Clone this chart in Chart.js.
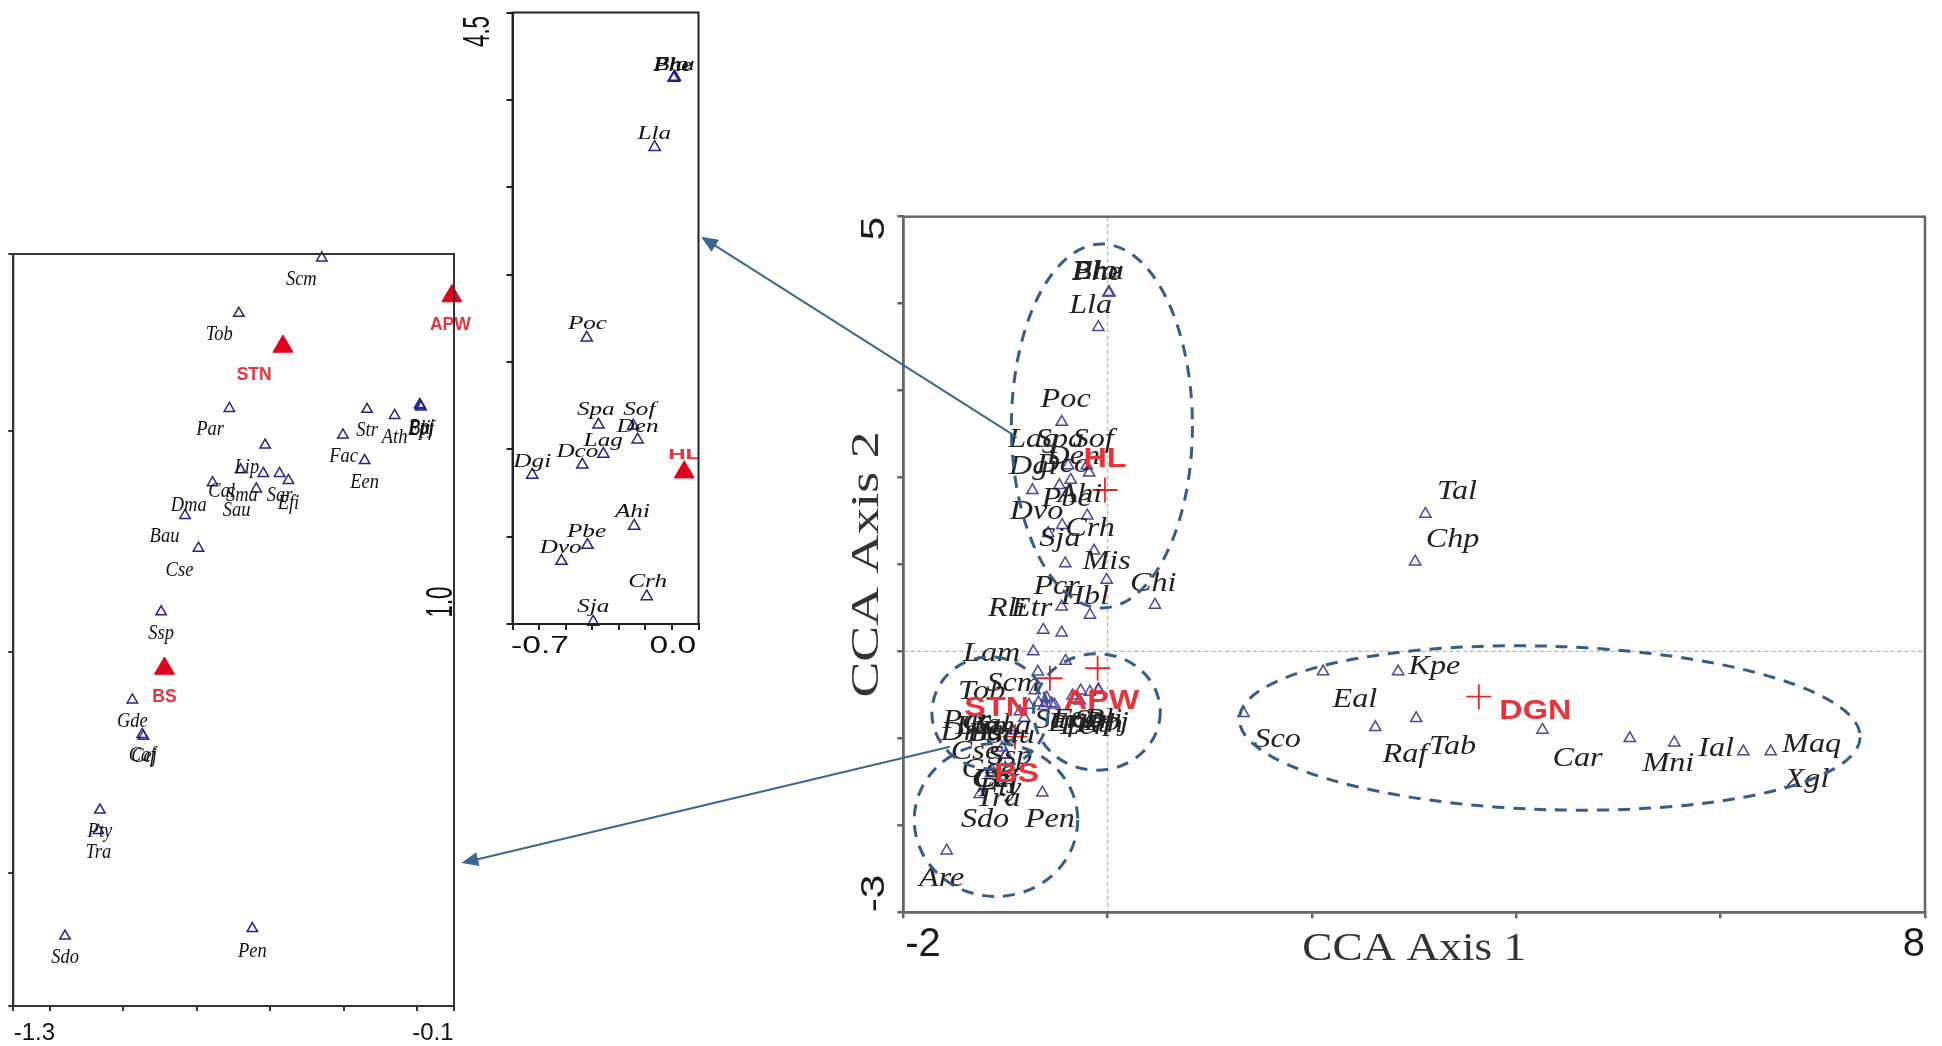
<!DOCTYPE html>
<html>
<head>
<meta charset="utf-8">
<title>CCA ordination</title>
<script src="https://cdn.jsdelivr.net/npm/chart.js@4.4.1/dist/chart.umd.min.js"></script>
<style>
html,body{margin:0;padding:0;background:#fff;}
#wrap{position:relative;width:1942px;height:1046px;overflow:hidden;background:#fff;}
#wrap canvas{position:absolute;}
</style>
</head>
<body>
<div id="wrap">
  <canvas id="cMain" width="1099" height="850" style="left:843px;top:196px"></canvas>
  <canvas id="cLeft" width="475" height="812" style="left:0px;top:234px"></canvas>
  <canvas id="cMid" width="300" height="670" style="left:420px;top:0px"></canvas>
  <canvas id="cArrows" width="1942" height="1046" style="left:0px;top:0px;pointer-events:none"></canvas>
</div>
<script>
// ---------------- DATA ----------------
// HL group species (CCA axis 1 / axis 2 scores)
const hlSpecies = ['Elo','Bhu','Phe','Lla','Poc','Spa','Sof','Den','Lag','Dco','Dgi','Ahi','Pbe','Dvo','Crh','Sja'];
const hlX = [0.012,0.015,0.009,-0.091,-0.449,-0.387,-0.204,-0.181,-0.361,-0.472,-0.736,-0.199,-0.445,-0.582,-0.133,-0.415];
const hlY = [4.128,4.131,4.125,3.729,2.638,2.140,2.135,2.055,1.973,1.911,1.853,1.561,1.452,1.360,1.158,1.012];
const hlLabelX = [-0.004,0.012,0.004,-0.093,-0.445,-0.401,-0.172,-0.181,-0.362,-0.498,-0.736,-0.208,-0.450,-0.586,-0.128,-0.415];
const hlLabelY = [4.197,4.200,4.194,3.803,2.715,2.221,2.221,2.128,2.048,1.985,1.927,1.642,1.526,1.434,1.237,1.093];

// STN / APW / BS group species
const swSpecies = ['Scm','Tob','Par','Str','Ath','Bli','Ppj','Epf','Fac','Een','Lip','Cal','Sma','Sar','Efi','Dma','Sau','Bau','Cse','Ssp','Gde','Caf','Cej','Pty','Tra','Sdo','Pen'];
const swX = [-0.412,-0.683,-0.714,-0.264,-0.174,-0.092,-0.088,-0.090,-0.343,-0.272,-0.597,-0.677,-0.603,-0.550,-0.521,-0.769,-0.626,-0.859,-0.815,-0.937,-1.031,-0.999,-0.995,-1.137,-1.142,-1.251,-0.639];
const swY = [-0.109,-0.234,-0.449,-0.451,-0.465,-0.440,-0.446,-0.443,-0.509,-0.567,-0.532,-0.588,-0.596,-0.596,-0.612,-0.617,-0.631,-0.691,-0.765,-0.909,-1.108,-1.186,-1.190,-1.357,-1.403,-1.642,-1.625];
const swLabelX = [-0.479,-0.747,-0.777,-0.264,-0.174,-0.092,-0.086,-0.089,-0.341,-0.272,-0.657,-0.739,-0.673,-0.550,-0.521,-0.847,-0.690,-0.926,-0.877,-0.937,-1.031,-0.999,-0.993,-1.137,-1.142,-1.251,-0.639];
const swLabelY = [-0.157,-0.281,-0.496,-0.499,-0.514,-0.493,-0.491,-0.495,-0.558,-0.617,-0.582,-0.637,-0.645,-0.645,-0.664,-0.667,-0.679,-0.738,-0.814,-0.958,-1.156,-1.233,-1.235,-1.405,-1.452,-1.689,-1.676];

// species only visible in the main plot
const otherSpecies = ['Mis','Chi','Hbl','Pcr','Rli','Etr','Lam','Are','Tal','Chp','Sco','Eal','Kpe','Raf','Tab','Car','Mni','Ial','Xgl','Maq'];
const otherX = [-0.010,0.463,-0.173,-0.450,-0.630,-0.450,-0.728,-1.575,3.110,3.010,1.330,2.109,2.843,2.620,3.020,4.256,5.111,5.546,6.222,6.490];
const otherY = [0.822,0.535,0.420,0.515,0.247,0.216,-0.002,-2.291,1.581,1.033,-0.711,-0.232,-0.232,-0.872,-0.769,-0.903,-0.999,-1.049,-1.152,-1.152];

// species labels as placed in the main plot
const mainLabelText = ['Elo','Bhu','Phe','Lla','Poc','Lag','Spa','Sof','Den','Dgi','Dco','Ahi','Pbe','Dvo','Crh','Sja','Mis','Chi','Pcr','Hbl','Rli','Etr','Lam',
 'Scm','Tob','Par','Lip','Cal','Dma','Bau','Sma','Sau','Sar','Efi','Fac','Een','Str','Ath','Bli','Ppj','Cse','Ssp','Gde','Caf','Cej','Pty','Tra','Sdo','Pen','Are',
 'Tal','Chp','Sco','Eal','Kpe','Raf','Tab','Car','Mni','Ial','Maq','Xgl'];
const mainLabelX = [-0.12,-0.095,-0.105,-0.166,-0.411,-0.728,-0.467,-0.141,-0.337,-0.728,-0.434,-0.271,-0.401,-0.695,-0.173,-0.467,-0.01,0.446,-0.499,-0.222,-0.988,-0.744,-1.135,
 -0.924,-1.233,-1.38,-1.28,-1.18,-1.33,-1.12,-1.02,-0.95,-0.50,-0.40,-0.30,-0.22,-0.14,-0.07,-0.04,-0.01,-1.298,-0.956,-1.168,-1.103,-1.09,-1.054,-1.07,-1.2,-0.565,-1.624,
 3.42,3.376,1.663,2.42,3.198,2.91,3.376,4.599,5.488,5.956,6.89,6.845];
const mainLabelY = [4.368,4.372,4.362,3.974,2.90,2.432,2.432,2.432,2.24,2.125,2.145,1.80,1.762,1.608,1.417,1.302,1.033,0.784,0.745,0.63,0.497,0.497,-0.021,
 -0.366,-0.462,-0.80,-0.86,-0.84,-0.93,-0.94,-0.86,-0.97,-0.80,-0.83,-0.78,-0.86,-0.80,-0.84,-0.78,-0.82,-1.152,-1.21,-1.363,-1.478,-1.48,-1.573,-1.688,-1.938,-1.938,-2.608,
 1.838,1.29,-1.018,-0.558,-0.175,-1.19,-1.095,-1.229,-1.286,-1.114,-1.075,-1.478];

// sites (main plot, "+")
const siteNames = ['HL','APW','STN','BS','DGN'];
const siteX = [-0.026,-0.098,-0.565,-0.907,3.633];
const siteY = [1.857,-0.193,-0.308,-0.980,-0.520];
const siteLabelX = [-0.026,-0.059,-1.086,-0.890,4.186];
const siteLabelY = [2.202,-0.577,-0.654,-1.420,-0.692];

// sites in the insets (filled triangles)
const insetSiteNames = ['HL','STN','APW','BS'];
const insetSiteX = [0.065,-0.539,0.013,-0.926];
const insetSiteY = [1.869,-0.309,-0.195,-1.037];
const insetSiteLabelX = [0.065,-0.633,0.008,-0.926];
const insetSiteLabelY = [1.969,-0.373,-0.260,-1.101];

// group ellipses (centre x, centre y, radius x, radius y, tilt) in main-plot units
const ellipseCX = [-0.056,-1.152,-0.105,-1.093,4.327];
const ellipseCY = [2.593,-0.707,-0.696,-1.938,-0.880];
const ellipseRX = [0.886,0.568,0.620,0.800,3.040];
const ellipseRY = [2.093,0.644,0.670,0.880,0.940];
const ellipseTilt = [0,0,0,0,0.03];

// axes
const mainXTicks = [-2,0,2,4,6,8];
const mainYTicks = [-3,-2,-1,0,1,2,3,4,5];
const mainXLabelVals = [-2,8];
const mainYLabelVals = [5,-3];
const leftXTicks = [-1.42,-1.3,-1.06,-0.82,-0.58,-0.34,-0.1,0.02];
const leftYTicks = [-0.1,-0.5,-1.0,-1.5,-1.8];
const leftXLabelVals = [-1.3,-0.1];
const midXTicks = [-0.84,-0.7,-0.56,-0.42,-0.28,-0.14,0.0,0.14];
const midYTicks = [1.0,1.5,2.0,2.5,3.0,3.5,4.0,4.5];
const midXLabelVals = [-0.7,0.0];
const midYLabelVals = [4.5,1.0];

// connector arrows: start in main-plot units, end in inset units
const arrowFromX = [-0.890,-1.544];
const arrowFromY = [2.464,-1.095];
const arrowToX = [0.153,0.044];
const arrowToY = [3.217,-1.477];

// ---------------- HELPERS ----------------
const SERIF = '"Liberation Serif", "DejaVu Serif", serif';
const SANS = '"Liberation Sans", Arial, sans-serif';
const RED_TXT = '#e8333b';
const RED_MARK = '#e3001b';

const pts = (xs, ys) => xs.map((x, i) => ({x: x, y: ys[i]}));

function T(ctx, s, x, y, o) {
  ctx.save();
  ctx.translate(x, y);
  if (o.rot) ctx.rotate(o.rot);
  ctx.scale(o.sx || 1, 1);
  ctx.font = o.font;
  ctx.fillStyle = o.color || '#111';
  ctx.textAlign = o.align || 'center';
  ctx.textBaseline = o.base || 'middle';
  ctx.fillText(s, 0, 0);
  ctx.restore();
}
function drawLabels(chart, texts, xs, ys, o) {
  const sx = chart.scales.x, sy = chart.scales.y;
  texts.forEach((t, i) => T(chart.ctx, t, sx.getPixelForValue(xs[i]), sy.getPixelForValue(ys[i]), o));
}
function frame(chart, color, w) {
  const ctx = chart.ctx, a = chart.chartArea;
  ctx.save(); ctx.strokeStyle = color; ctx.lineWidth = w; ctx.setLineDash([]);
  ctx.strokeRect(a.left, a.top, a.right - a.left, a.bottom - a.top);
  ctx.restore();
}
function mkScale(min, max, ticks, sizeProp, size, tickLen, color, bw) {
  return {
    type: 'linear', min: min, max: max,
    afterBuildTicks: s => { s.ticks = ticks.map(v => ({value: v})); },
    afterFit: s => { s[sizeProp] = size; },
    ticks: {display: false},
    grid: {drawOnChartArea: false, drawTicks: true, tickLength: tickLen, color: color, lineWidth: bw},
    border: {display: true, color: color, width: bw}
  };
}
function baseOptions(padding, xScale, yScale) {
  return {
    responsive: false, animation: false, events: [],
    layout: {padding: padding},
    plugins: {legend: {display: false}, tooltip: {enabled: false}},
    scales: {x: xScale, y: yScale}
  };
}

// ---------------- MAIN PLOT ----------------
const mainDeco = {
  id: 'mainDeco',
  beforeDatasetsDraw(chart) {
    const ctx = chart.ctx, a = chart.chartArea;
    const x0 = chart.scales.x.getPixelForValue(0), y0 = chart.scales.y.getPixelForValue(0);
    ctx.save();
    ctx.strokeStyle = '#b8b8b8'; ctx.lineWidth = 1.2; ctx.setLineDash([4, 3]);
    ctx.beginPath();
    ctx.moveTo(x0, a.top); ctx.lineTo(x0, a.bottom);
    ctx.moveTo(a.left, y0); ctx.lineTo(a.right, y0);
    ctx.stroke();
    ctx.restore();
  },
  afterDatasetsDraw(chart) {
    const ctx = chart.ctx, sx = chart.scales.x, sy = chart.scales.y;
    // species labels
    drawLabels(chart, mainLabelText, mainLabelX, mainLabelY, {font: 'italic 28px ' + SERIF, sx: 1.15, color: '#222'});
    // ellipses
    ctx.save();
    ctx.strokeStyle = '#385c88'; ctx.lineWidth = 3; ctx.setLineDash([12, 9]);
    ellipseCX.forEach((cx, i) => {
      const px = sx.getPixelForValue(cx), py = sy.getPixelForValue(ellipseCY[i]);
      const rx = Math.abs(sx.getPixelForValue(cx + ellipseRX[i]) - px);
      const ry = Math.abs(sy.getPixelForValue(ellipseCY[i] + ellipseRY[i]) - py);
      ctx.beginPath(); ctx.ellipse(px, py, rx, ry, ellipseTilt[i], 0, Math.PI * 2); ctx.stroke();
    });
    ctx.restore();
    // site labels
    drawLabels(chart, siteNames, siteLabelX, siteLabelY, {font: 'bold 27px ' + SANS, sx: 1.2, color: RED_TXT});
    frame(chart, '#666', 2.5);
  },
  afterDraw(chart) {
    const ctx = chart.ctx, a = chart.chartArea, sx = chart.scales.x, sy = chart.scales.y;
    mainXLabelVals.forEach((v, i) => T(ctx, String(v), sx.getPixelForValue(v) + (i === 0 ? 2 : 0), a.bottom + 33,
      {font: '40px ' + SANS, color: '#1a1a1a', align: i === 0 ? 'left' : 'right'}));
    mainYLabelVals.forEach((v, i) => T(ctx, String(v), a.left - 29, sy.getPixelForValue(v),
      {font: '34px ' + SANS, color: '#1a1a1a', rot: -Math.PI / 2, sx: 1.25, align: i === 0 ? 'right' : 'left'}));
    T(ctx, 'CCA Axis 1', (a.left + a.right) / 2, a.bottom + 37, {font: '39px ' + SERIF, sx: 1.16, color: '#333'});
    T(ctx, 'CCA Axis 2', a.left - 36, (a.top + a.bottom) / 2, {font: '39px ' + SERIF, sx: 1.38, color: '#333', rot: -Math.PI / 2});
  }
};

const mainChart = new Chart(document.getElementById('cMain'), {
  type: 'scatter',
  data: {datasets: [
    {label: 'Species', data: [...pts(hlX, hlY), ...pts(swX, swY), ...pts(otherX, otherY)],
     pointStyle: 'triangle', pointRadius: 6.5, borderColor: '#4d44a6', backgroundColor: 'rgba(0,0,0,0)', borderWidth: 1.5},
    {label: 'Sites', data: pts(siteX, siteY),
     pointStyle: 'cross', pointRadius: 12.5, borderColor: '#e4262c', backgroundColor: '#e4262c', borderWidth: 1.8}
  ]},
  options: baseOptions({top: 20.7, right: 17, left: 0, bottom: 0},
    mkScale(-2, 8, mainXTicks, 'height', 133.7, 6, '#666', 2.5),
    mkScale(-3, 5, mainYTicks, 'width', 60.3, 6, '#666', 2.5)),
  plugins: [mainDeco]
});

// ---------------- LEFT INSET ----------------
const leftSites = ['STN','APW','BS'];
const leftIdx = insetSiteNames.map((n, i) => i).filter(i => leftSites.includes(insetSiteNames[i]));
const leftDeco = {
  id: 'leftDeco',
  afterDatasetsDraw(chart) {
    drawLabels(chart, swSpecies, swLabelX, swLabelY, {font: 'italic 22px ' + SERIF, sx: 0.84, color: '#111'});
    drawLabels(chart, leftIdx.map(i => insetSiteNames[i]), leftIdx.map(i => insetSiteLabelX[i]), leftIdx.map(i => insetSiteLabelY[i]),
      {font: 'bold 19px ' + SANS, sx: 0.92, color: RED_TXT});
    frame(chart, '#333', 2);
  },
  afterDraw(chart) {
    const ctx = chart.ctx, a = chart.chartArea, sx = chart.scales.x;
    leftXLabelVals.forEach((v, i) => T(ctx, v.toFixed(1), sx.getPixelForValue(v) + (i === 0 ? 5 : -5), a.bottom + 27,
      {font: '24px ' + SANS, color: '#111', align: i === 0 ? 'right' : 'left'}));
  }
};
const leftChart = new Chart(document.getElementById('cLeft'), {
  type: 'scatter',
  data: {datasets: [
    {label: 'Species', data: pts(swX, swY), clip: false,
     pointStyle: 'triangle', pointRadius: 6, borderColor: '#23238e', backgroundColor: 'rgba(0,0,0,0)', borderWidth: 1.5},
    {label: 'Sites', data: leftIdx.map(i => ({x: insetSiteX[i], y: insetSiteY[i]})), clip: false,
     pointStyle: 'triangle', pointRadius: 11.5, borderColor: RED_MARK, backgroundColor: RED_MARK, borderWidth: 1}
  ]},
  options: baseOptions({top: 20, right: 21, left: 0, bottom: 0},
    mkScale(-1.42, 0.02, leftXTicks, 'height', 40, 5, '#333', 2),
    mkScale(-1.8, -0.1, leftYTicks, 'width', 13.3, 5, '#333', 2)),
  plugins: [leftDeco]
});

// ---------------- UPPER (MIDDLE) INSET ----------------
const midIdx = insetSiteNames.map((n, i) => i).filter(i => insetSiteNames[i] === 'HL');
const midDeco = {
  id: 'midDeco',
  afterDatasetsDraw(chart) {
    drawLabels(chart, hlSpecies, hlLabelX, hlLabelY, {font: 'italic 18px ' + SERIF, sx: 1.4, color: '#111'});
    drawLabels(chart, midIdx.map(i => insetSiteNames[i]), midIdx.map(i => insetSiteLabelX[i]), midIdx.map(i => insetSiteLabelY[i]),
      {font: 'bold 15px ' + SANS, sx: 1.6, color: RED_TXT});
    frame(chart, '#222', 2);
  },
  afterDraw(chart) {
    const ctx = chart.ctx, a = chart.chartArea, sx = chart.scales.x, sy = chart.scales.y;
    midXLabelVals.forEach(v => T(ctx, v.toFixed(1), sx.getPixelForValue(v) + 1, a.bottom + 22,
      {font: '24px ' + SANS, sx: 1.4, color: '#111'}));
    midYLabelVals.forEach((v, i) => T(ctx, v.toFixed(1), a.left - (i === 0 ? 33 : 70), sy.getPixelForValue(v) + (i === 0 ? 19 : -22),
      {font: '36px ' + SANS, sx: 0.62, color: '#111', rot: -Math.PI / 2}));
  }
};
const midChart = new Chart(document.getElementById('cMid'), {
  type: 'scatter',
  data: {datasets: [
    {label: 'Species', data: pts(hlX, hlY), clip: false,
     pointStyle: 'triangle', pointRadius: 6.5, borderColor: '#23238e', backgroundColor: 'rgba(0,0,0,0)', borderWidth: 1.5},
    {label: 'Sites', data: midIdx.map(i => ({x: insetSiteX[i], y: insetSiteY[i]})), clip: false,
     pointStyle: 'triangle', pointRadius: 11.5, borderColor: RED_MARK, backgroundColor: RED_MARK, borderWidth: 1}
  ]},
  options: baseOptions({top: 8.3, right: 21.5, left: 0, bottom: 0},
    mkScale(-0.84, 0.14, midXTicks, 'height', 46, 6, '#222', 2),
    mkScale(1.0, 4.5, midYTicks, 'width', 92.5, 6, '#222', 2)),
  plugins: [midDeco]
});

// ---------------- CONNECTOR ARROWS ----------------
function pagePt(chart, x, y) {
  const c = chart.canvas;
  return [c.offsetLeft + chart.scales.x.getPixelForValue(x), c.offsetTop + chart.scales.y.getPixelForValue(y)];
}
function arrow(ctx, x1, y1, x2, y2) {
  const ang = Math.atan2(y2 - y1, x2 - x1), L = 17, W = 7;
  ctx.save();
  ctx.strokeStyle = '#3f6595'; ctx.fillStyle = '#3f6595'; ctx.lineWidth = 2;
  ctx.beginPath(); ctx.moveTo(x1, y1);
  ctx.lineTo(x2 - Math.cos(ang) * L * 0.8, y2 - Math.sin(ang) * L * 0.8); ctx.stroke();
  ctx.beginPath(); ctx.moveTo(x2, y2);
  ctx.lineTo(x2 - L * Math.cos(ang) + W * Math.sin(ang), y2 - L * Math.sin(ang) - W * Math.cos(ang));
  ctx.lineTo(x2 - L * Math.cos(ang) - W * Math.sin(ang), y2 - L * Math.sin(ang) + W * Math.cos(ang));
  ctx.closePath(); ctx.fill();
  ctx.restore();
}
const actx = document.getElementById('cArrows').getContext('2d');
const targets = [midChart, leftChart];
arrowFromX.forEach((fx, i) => {
  const p1 = pagePt(mainChart, fx, arrowFromY[i]);
  const p2 = pagePt(targets[i], arrowToX[i], arrowToY[i]);
  arrow(actx, p1[0], p1[1], p2[0], p2[1]);
});
</script>
</body>
</html>
